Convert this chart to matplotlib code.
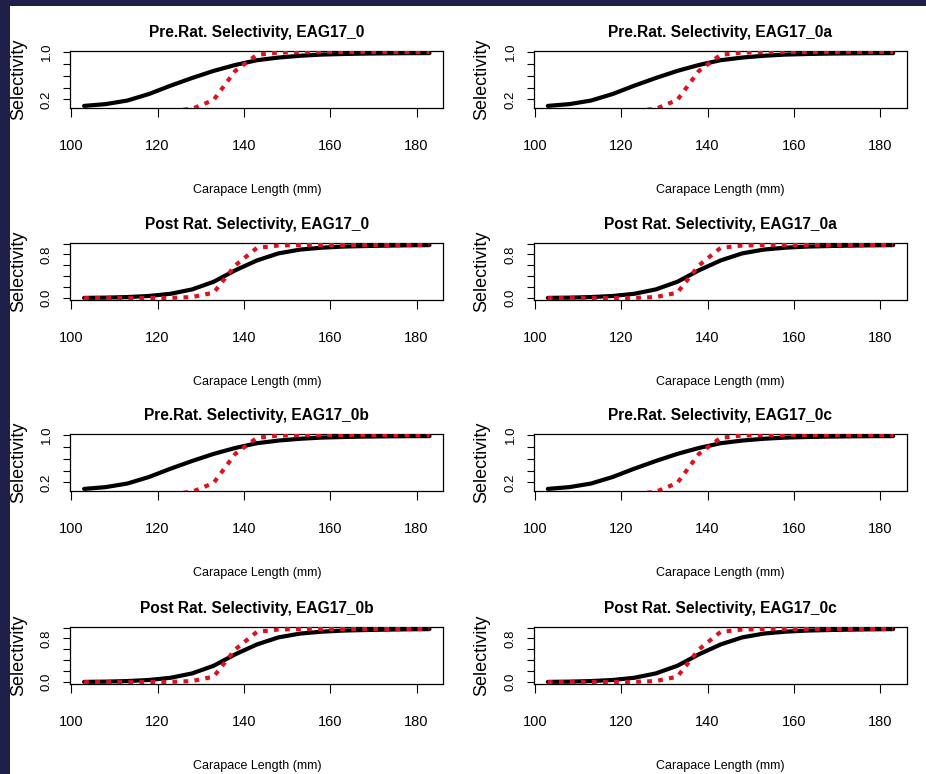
import numpy as np
import matplotlib
matplotlib.use("Agg")
import matplotlib.pyplot as plt
from matplotlib.patches import Rectangle

# carapace length bins (mm)
carapace = [103, 108, 113, 118, 123, 128, 133, 138, 143, 148,
            153, 158, 163, 168, 173, 178, 183]

# pre-rationalisation selectivity: fitted (black) and knife-edge style (red)
pre_fit = [0.09, 0.12, 0.18, 0.29, 0.43, 0.56, 0.68, 0.78, 0.86, 0.905,
           0.935, 0.955, 0.965, 0.972, 0.976, 0.979, 0.98]
pre_alt = [0.0, 0.0, 0.0, 0.0, 0.005, 0.04, 0.19, 0.68, 0.95, 0.99,
           0.995, 0.998, 0.998, 0.998, 0.998, 0.998, 0.998]

# post-rationalisation selectivity
post_fit = [0.005, 0.01, 0.02, 0.04, 0.08, 0.16, 0.30, 0.51, 0.69, 0.82,
            0.89, 0.925, 0.945, 0.955, 0.962, 0.968, 0.972]
post_alt = [0.0, 0.0, 0.0, 0.0, 0.005, 0.02, 0.10, 0.60, 0.92, 0.965,
            0.972, 0.974, 0.975, 0.975, 0.975, 0.975, 0.975]

titles = ["Pre.Rat. Selectivity, EAG17_0", "Pre.Rat. Selectivity, EAG17_0a",
          "Post Rat. Selectivity, EAG17_0", "Post Rat. Selectivity, EAG17_0a",
          "Pre.Rat. Selectivity, EAG17_0b", "Pre.Rat. Selectivity, EAG17_0c",
          "Post Rat. Selectivity, EAG17_0b", "Post Rat. Selectivity, EAG17_0c"]
kinds = ["pre", "pre", "post", "post", "pre", "pre", "post", "post"]

x_ticks = [100, 120, 140, 160, 180]
pre_yticks = [0.2, 0.4, 0.6, 0.8, 1.0]
pre_ylabels = ["0.2", "", "", "", "1.0"]
post_yticks = [0.0, 0.2, 0.4, 0.6, 0.8, 1.0]
post_ylabels = ["0.0", "", "", "", "0.8", ""]

FONT = ["Liberation Sans", "DejaVu Sans"]

W, H = 926, 774
fig = plt.figure(figsize=(W / 100, H / 100), dpi=100, facecolor="#1e2049")
fig.patches.append(Rectangle((10 / W, 0), 1, 1 - 6 / H, transform=fig.transFigure,
                             facecolor="white", edgecolor="none", zorder=-10))

col_left = [70.3, 534.0]
box_w = 373.0
row_top = [51, 243, 434, 627]
box_h = 57.0


def r_range(v):
    # R-style 4% padding around the data range
    lo, hi = min(v), max(v)
    pad = 0.04 * (hi - lo)
    return lo - pad, hi + pad


x = np.array(carapace)
for i, (title, kind) in enumerate(zip(titles, kinds)):
    r, c = divmod(i, 2)
    ax = fig.add_axes([col_left[c] / W, 1 - (row_top[r] + box_h) / H,
                       box_w / W, box_h / H])
    ax.set_facecolor("white")
    if kind == "pre":
        fit, alt = pre_fit, pre_alt
        yt, yl = pre_yticks, pre_ylabels
    else:
        fit, alt = post_fit, post_alt
        yt, yl = post_yticks, post_ylabels

    ax.plot(x, fit, color="black", lw=3.0, solid_capstyle="round", zorder=2)
    ax.plot(x, alt, color="#dd1122", lw=3.0, linestyle=(0, (1.15, 1.5)),
            dash_capstyle="butt", zorder=3)

    ax.set_xlim(*r_range(carapace))
    ax.set_ylim(*r_range(fit))
    ax.set_xticks(x_ticks)
    ax.set_xticklabels([str(t) for t in x_ticks], family=FONT, fontsize=10.5)
    ax.set_yticks(yt)
    ax.set_yticklabels(yl, family=FONT, fontsize=9.5, rotation=90, va="center")
    ax.tick_params(axis="x", direction="out", length=6.5, width=0.8, pad=16)
    ax.tick_params(axis="y", direction="out", length=5, width=0.8, pad=7.5)
    for s in ax.spines.values():
        s.set_linewidth(0.9)

    ax.set_title(title, family=FONT, fontweight="bold", fontsize=11.2,
                 y=1 + 18 / box_h, va="center", pad=0)
    ax.set_xlabel("Carapace Length (mm)", family=FONT, fontsize=9, va="center")
    ax.xaxis.set_label_coords(0.5, -82 / box_h)
    ax.set_ylabel("Selectivity", family=FONT, fontsize=13, va="center")
    ax.yaxis.set_label_coords(-52 / box_w, 0.5)

fig.savefig("out.png", dpi=100, facecolor=fig.get_facecolor())
